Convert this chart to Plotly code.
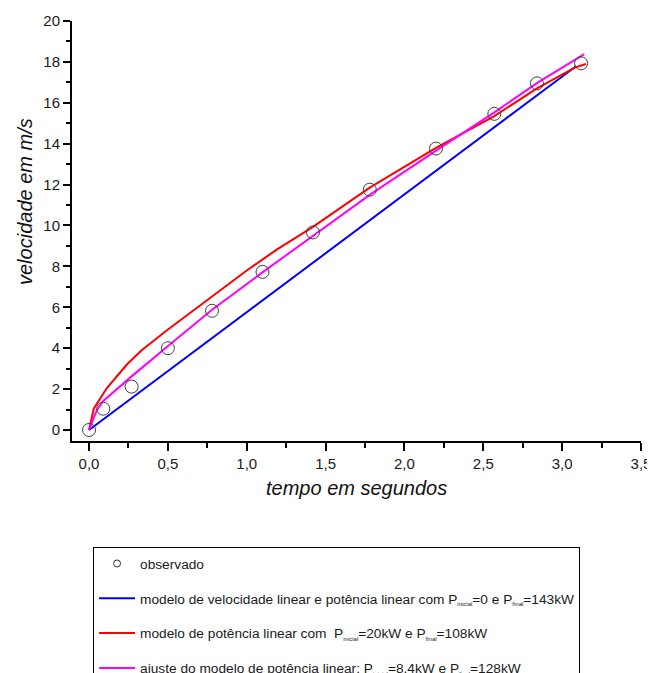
import plotly.graph_objects as go

# observed data
obs_t = [0, 0.09, 0.27, 0.5, 0.78, 1.1, 1.42, 1.78, 2.2, 2.57, 2.84, 3.12]
obs_v = [0, 1.04, 2.12, 4.0, 5.83, 7.73, 9.66, 11.75, 13.76, 15.46, 16.95, 17.93]

# model: linear velocity, linear power (Pinicial=0, Pfinal=143kW)
blue_t = [0, 1.0, 2.0, 3.09]
blue_v = [0, 5.76, 11.52, 17.8]

# model: linear power (Pinicial=20kW, Pfinal=108kW)
red_t = [0, 0.03, 0.112, 0.24, 0.33, 0.49, 1.0, 1.19, 1.42, 1.78, 2.2, 2.57, 2.84, 3.08, 3.15]
red_v = [0, 1.04, 2.04, 3.2, 3.87, 4.85, 7.8, 8.82, 9.93, 11.85, 13.8, 15.35, 16.7, 17.72, 17.9]

# fit of linear power model (Pinicial=8.4kW, Pfinal=128kW)
mag_t = [0, 0.05, 0.09, 0.154, 0.27, 0.497, 0.778, 1.095, 1.418, 1.784, 2.196, 2.568, 2.84, 3.14]
mag_v = [0, 0.98, 1.42, 1.85, 2.62, 4.08, 5.87, 7.68, 9.5, 11.52, 13.64, 15.52, 16.96, 18.38]

SUB = "<sub><span style='font-size:6px'>{}</span></sub>"
names = [
    "observado",
    "modelo de velocidade linear e potência linear com P" + SUB.format("inicial") + "=0 e P" + SUB.format("final") + "=143kW",
    "modelo de potência linear com  P" + SUB.format("inicial") + "=20kW e P" + SUB.format("final") + "=108kW",
    "ajuste do modelo de potência linear: P" + SUB.format("inicial") + "=8,4kW e P" + SUB.format("final") + "=128kW",
]

FONT = "Arial, Liberation Sans, sans-serif"

fig = go.Figure()
fig.add_trace(go.Scatter(x=blue_t, y=blue_v, mode="lines", line=dict(color="#0000FF", width=2),
                         showlegend=False, legendgroup="b"))
fig.add_trace(go.Scatter(x=red_t, y=red_v, mode="lines", line=dict(color="#FF0000", width=2),
                         showlegend=False, legendgroup="r"))
fig.add_trace(go.Scatter(x=mag_t, y=mag_v, mode="lines", line=dict(color="#FF00FF", width=2),
                         showlegend=False, legendgroup="m"))
fig.add_trace(go.Scatter(x=obs_t, y=obs_v, mode="markers",
                         marker=dict(symbol="circle-open", size=13, color="#404040", line=dict(width=1)),
                         showlegend=False, legendgroup="o"))

# legend entries
fig.add_trace(go.Scatter(x=[None], y=[None], mode="markers", name=names[0], legendgroup="o",
                         marker=dict(symbol="circle-open", size=7, color="#333333", line=dict(width=1))))
fig.add_trace(go.Scatter(x=[None], y=[None], mode="lines", name=names[1], legendgroup="b",
                         line=dict(color="#0000FF", width=2)))
fig.add_trace(go.Scatter(x=[None], y=[None], mode="lines", name=names[2], legendgroup="r",
                         line=dict(color="#FF0000", width=2)))
fig.add_trace(go.Scatter(x=[None], y=[None], mode="lines", name=names[3], legendgroup="m",
                         line=dict(color="#FF00FF", width=2)))

# page body adds an 8px offset; margins compensate so the plot area lands at x 72-641, y 21-441
L, R, T, B = 64, 22, 13, 240
PW, PH = 569, 420
fig.update_layout(
    width=655, height=673,
    margin=dict(l=L, r=R, t=T, b=B, pad=0, autoexpand=False),
    paper_bgcolor="white", plot_bgcolor="white",
    separators=",.",
    font=dict(family=FONT, size=15, color="#1a1a1a"),
    showlegend=True,
    legend=dict(
        x=0.037, y=-0.2525, xanchor="left", yanchor="top",
        bordercolor="#000000", borderwidth=1, bgcolor="white",
        font=dict(family=FONT, size=13.7, color="#1a1a1a"),
        tracegroupgap=14, traceorder="grouped",
        itemwidth=36,
    ),
    xaxis=dict(
        range=[-0.108, 3.5], tickmode="linear", tick0=0, dtick=0.5, tickformat=".1f",
        showgrid=False, zeroline=False, showline=True, linecolor="black", linewidth=2,
        ticks="outside", ticklen=8, tickwidth=2, tickcolor="black",
        minor=dict(ticks="outside", ticklen=5, tickwidth=2, tickcolor="black", dtick=0.25, tick0=0, showgrid=False),
        tickfont=dict(family=FONT, size=15, color="#1a1a1a"),
    ),
    yaxis=dict(
        range=[-0.54, 20], tickmode="linear", tick0=0, dtick=2,
        showgrid=False, zeroline=False, showline=True, linecolor="black", linewidth=2,
        ticks="outside", ticklen=7, tickwidth=2, tickcolor="black",
        minor=dict(ticks="outside", ticklen=4, tickwidth=2, tickcolor="black", dtick=1, tick0=0, showgrid=False),
        tickfont=dict(family=FONT, size=15, color="#1a1a1a"),
    ),
    annotations=[
        dict(text="<i>tempo em segundos</i>", xref="paper", yref="paper",
             x=(356.5 - 72) / PW, y=(441 - 488) / PH, xanchor="center", yanchor="middle", showarrow=False,
             font=dict(family=FONT, size=20, color="#111111")),
        dict(text="<i>velocidade em m/s</i>", xref="paper", yref="paper", textangle=-90,
             x=(25 - 72) / PW, y=(441 - 202) / PH, xanchor="center", yanchor="middle", showarrow=False,
             font=dict(family=FONT, size=20, color="#111111")),
    ],
)

fig.write_html("out.html")
